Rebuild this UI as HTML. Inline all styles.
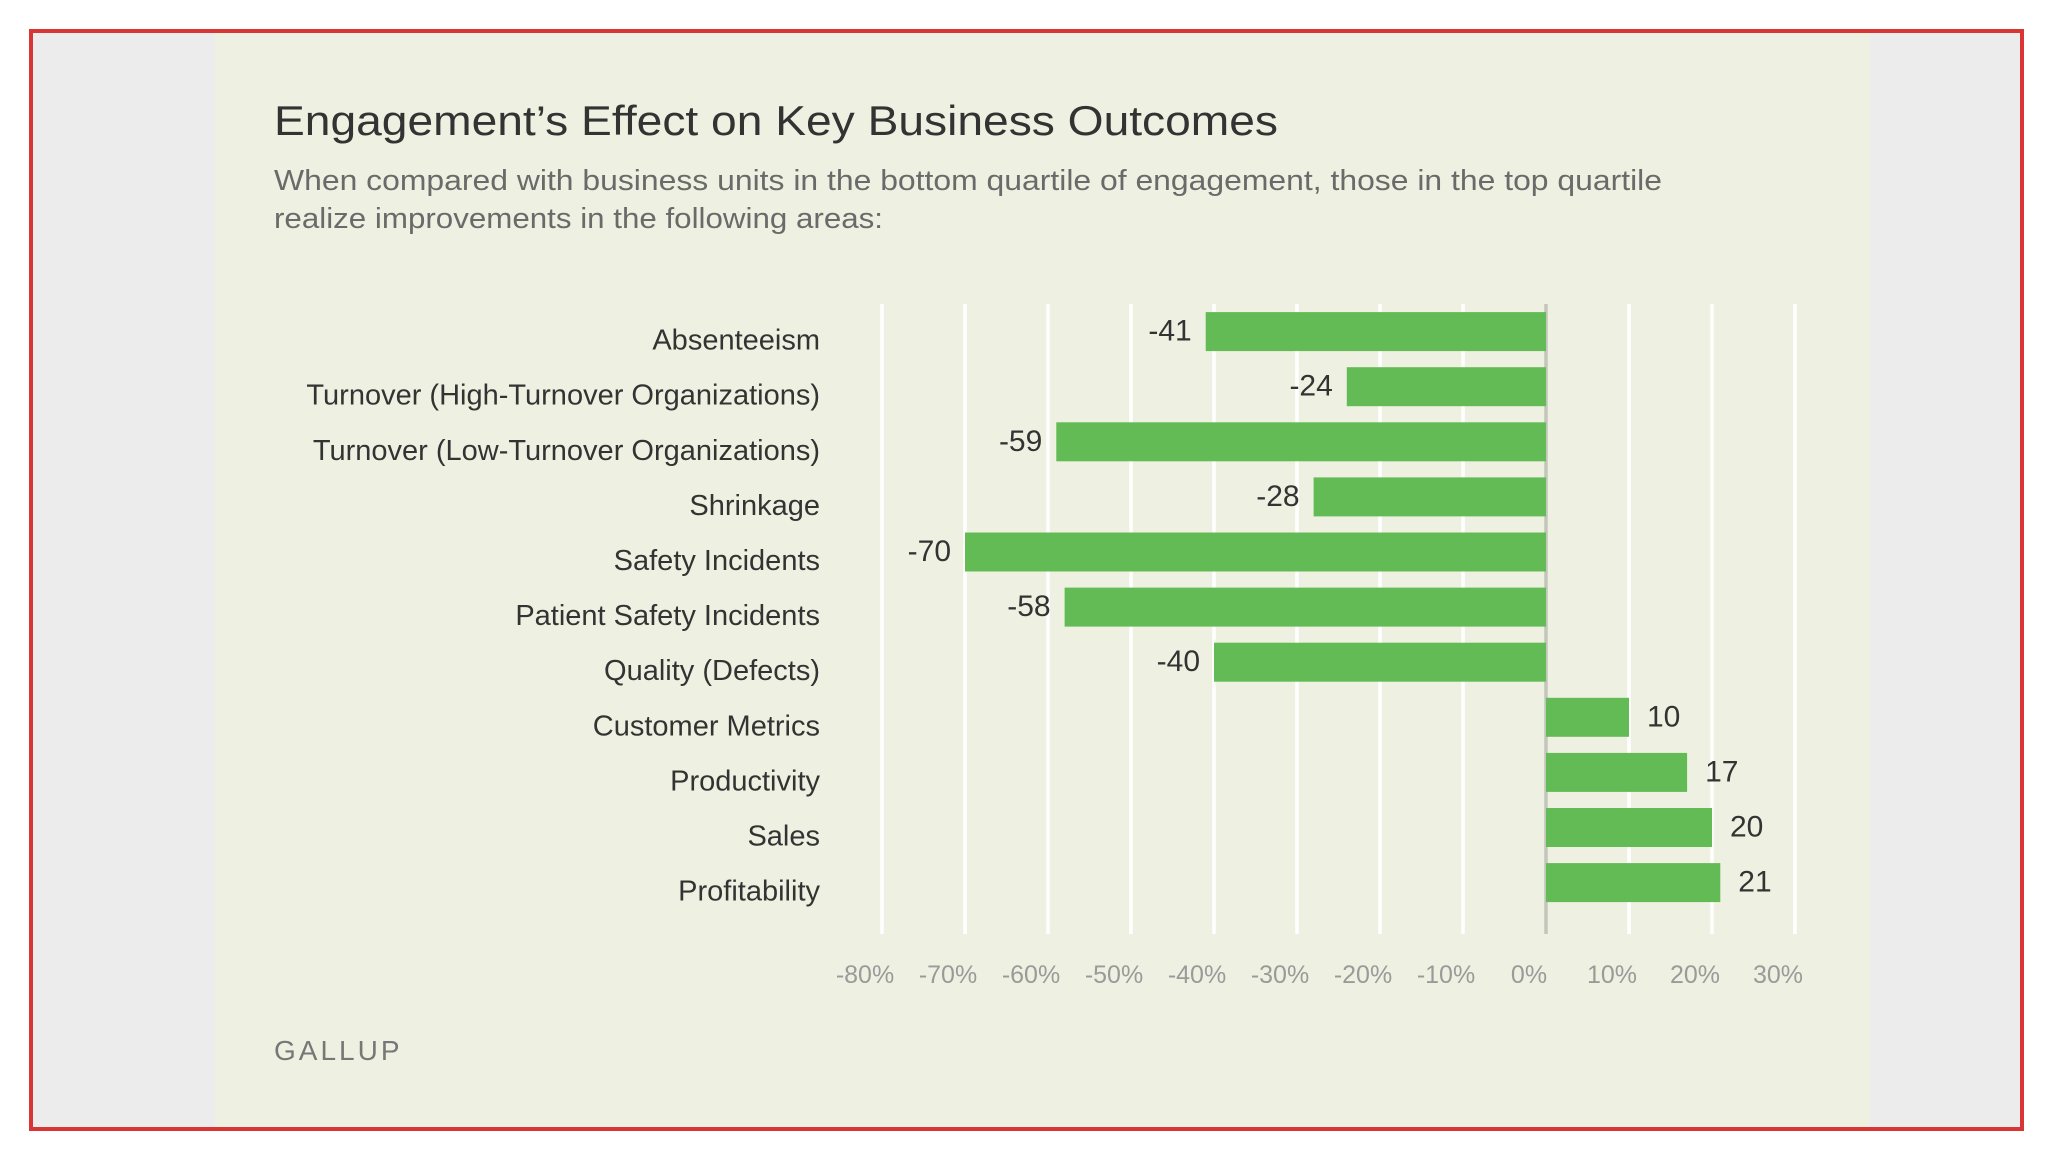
<!DOCTYPE html>
<html><head><meta charset="utf-8"><style>
html,body{margin:0;padding:0;background:#fff;}
svg{display:block;font-family:"Liberation Sans",sans-serif;}
</style></head><body>
<svg id="chart" width="2048" height="1152" viewBox="0 0 2048 1152">
  <rect x="29" y="29" width="1995" height="1101" fill="#ececec"/>
  <rect x="215" y="31" width="1655" height="1097" fill="#eef1e1"/>
  <rect x="31" y="31" width="1991" height="1098" fill="none" stroke="#d93535" stroke-width="4"/>
  <text x="274" y="135" font-size="42" fill="#333" textLength="1004" lengthAdjust="spacingAndGlyphs">Engagement’s Effect on Key Business Outcomes</text>
  <text x="274" y="190" font-size="29" fill="#6a6a6a" textLength="1388" lengthAdjust="spacingAndGlyphs">When compared with business units in the bottom quartile of engagement, those in the top quartile</text>
  <text x="274" y="228" font-size="29" fill="#6a6a6a" textLength="609" lengthAdjust="spacingAndGlyphs">realize improvements in the following areas:</text>
  <g id="grid"></g>
  <g id="bars"></g>
  <g id="labels"></g>
  <text x="274" y="1060" font-size="28" fill="#777" letter-spacing="3">GALLUP</text>
</svg>
<script>
const categories = ["Absenteeism","Turnover (High-Turnover Organizations)","Turnover (Low-Turnover Organizations)","Shrinkage","Safety Incidents","Patient Safety Incidents","Quality (Defects)","Customer Metrics","Productivity","Sales","Profitability"];
const values = [-41,-24,-59,-28,-70,-58,-40,10,17,20,21];
const ticks = [-80,-70,-60,-50,-40,-30,-20,-10,0,10,20,30];
const tickLabels = ["-80%","-70%","-60%","-50%","-40%","-30%","-20%","-10%","0%","10%","20%","30%"];

const NS = "http://www.w3.org/2000/svg";
const x0 = 1546, unit = 8.3;
function xs(v){ return x0 + v*unit; }
function rowY(i){ return 339.6 + i*55.1; }
function mk(tag, attrs, parent, txt){
  const e = document.createElementNS(NS, tag);
  for (const k in attrs) e.setAttribute(k, attrs[k]);
  if (txt !== undefined) e.textContent = txt;
  parent.appendChild(e); return e;
}
const grid = document.getElementById('grid');
const bars = document.getElementById('bars');
const labels = document.getElementById('labels');
ticks.forEach((t, i) => {
  const l = mk('line', {x1: xs(t), x2: xs(t), y1: 304, y2: 934, stroke: t === 0 ? '#c4c6bc' : '#ffffff', 'stroke-width': 3.5}, grid);
  
  
  const tx = mk('text', {x: xs(t) - 17, y: 983, 'font-size': 25, fill: '#9a9a9a', 'text-anchor': 'middle'}, grid, tickLabels[i]);
  
  
});
categories.forEach((c, i) => {
  const y = rowY(i);
  const lab = mk('text', {x: 820, y: y + 10, 'font-size': 29, fill: '#333', 'text-anchor': 'end'}, labels, c);
  
  
  const v = values[i];
  const bx = Math.min(xs(0), xs(v)), bw = Math.abs(xs(v) - xs(0));
  const bc = y - 8;
  const r = mk('rect', {x: bx, y: bc - 19.5, width: bw, height: 39, fill: '#63bb55'}, bars);
  
  
  const vt = mk('text', {x: v < 0 ? xs(v) - 14 : xs(v) + 18, y: bc + 9, 'font-size': 30, fill: '#333', 'text-anchor': v < 0 ? 'end' : 'start'}, bars, String(v));
  
  
});
</script>
</body></html>
